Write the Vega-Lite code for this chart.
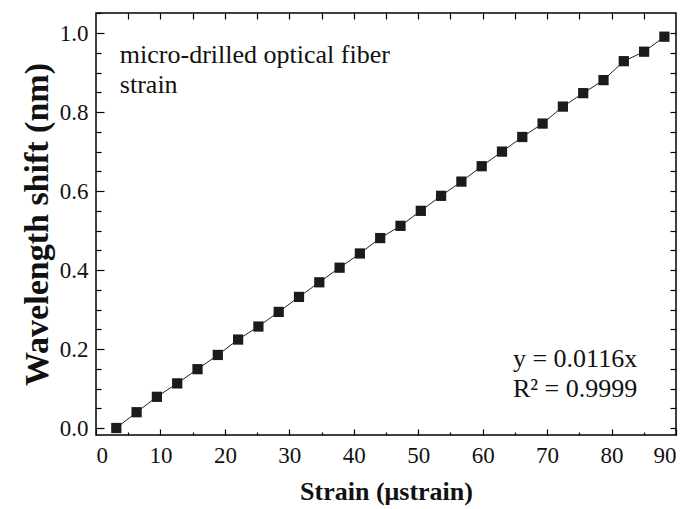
{
  "$schema": "https://vega.github.io/schema/vega-lite/v6.json",
  "width": 580,
  "height": 422,
  "autosize": "none",
  "padding": {"left": 96, "top": 13, "right": 13, "bottom": 74},
  "datasets": {
    "points": [
      {"strain": 3.15, "shift": 0.0},
      {"strain": 6.3, "shift": 0.040},
      {"strain": 9.45, "shift": 0.079},
      {"strain": 12.6, "shift": 0.113},
      {"strain": 15.75, "shift": 0.149},
      {"strain": 18.9, "shift": 0.185},
      {"strain": 22.05, "shift": 0.224},
      {"strain": 25.2, "shift": 0.257},
      {"strain": 28.35, "shift": 0.294},
      {"strain": 31.5, "shift": 0.332},
      {"strain": 34.65, "shift": 0.369},
      {"strain": 37.8, "shift": 0.406},
      {"strain": 40.95, "shift": 0.442},
      {"strain": 44.1, "shift": 0.481},
      {"strain": 47.25, "shift": 0.512},
      {"strain": 50.4, "shift": 0.550},
      {"strain": 53.55, "shift": 0.588},
      {"strain": 56.7, "shift": 0.624},
      {"strain": 59.85, "shift": 0.663},
      {"strain": 63.0, "shift": 0.700},
      {"strain": 66.15, "shift": 0.737},
      {"strain": 69.3, "shift": 0.771},
      {"strain": 72.45, "shift": 0.814},
      {"strain": 75.6, "shift": 0.848},
      {"strain": 78.75, "shift": 0.881},
      {"strain": 81.9, "shift": 0.929},
      {"strain": 85.05, "shift": 0.953},
      {"strain": 88.2, "shift": 0.991}
    ],
    "notes": [
      {"tx": 3.7, "ty": 0.924, "note": "micro-drilled optical fiber"},
      {"tx": 3.7, "ty": 0.848, "note": "strain"},
      {"tx": 64.7, "ty": 0.1545, "note": "y = 0.0116x"},
      {"tx": 64.7, "ty": 0.0785, "note": "R² = 0.9999"}
    ]
  },
  "layer": [
    {
      "data": {"name": "points"},
      "mark": {"type": "line", "color": "#222222", "strokeWidth": 1},
      "encoding": {
        "x": {
          "field": "strain",
          "type": "quantitative",
          "scale": {"domain": [0, 90], "nice": false, "zero": false},
          "axis": {
            "orient": "bottom",
            "title": "Strain (μstrain)",
            "values": [0, 10, 20, 30, 40, 50, 60, 70, 80, 90],
            "tickSize": -6,
            "labelPadding": 15,
            "titlePadding": 11
          }
        },
        "y": {
          "field": "shift",
          "type": "quantitative",
          "scale": {"domain": [-0.0177, 1.051], "nice": false, "zero": false},
          "axis": {
            "orient": "left",
            "title": "Wavelength shift (nm)",
            "values": [0, 0.2, 0.4, 0.6, 0.8, 1.0],
            "format": ".1f",
            "tickSize": -8,
            "labelPadding": 16,
            "titleFontSize": 34,
            "titlePadding": 5
          }
        }
      }
    },
    {
      "data": {"name": "points"},
      "mark": {"type": "square", "size": 105, "filled": true, "color": "#1b1b1b", "opacity": 1},
      "encoding": {
        "x": {
          "field": "strain",
          "type": "quantitative",
          "axis": {
            "orient": "bottom",
            "title": null,
            "labels": false,
            "values": [5, 15, 25, 35, 45, 55, 65, 75, 85],
            "tickSize": -3
          }
        },
        "y": {
          "field": "shift",
          "type": "quantitative",
          "axis": {
            "orient": "left",
            "title": null,
            "labels": false,
            "values": [0.05, 0.1, 0.15, 0.25, 0.3, 0.35, 0.45, 0.5, 0.55, 0.65, 0.7, 0.75, 0.85, 0.9, 0.95, 1.05],
            "tickSize": -5
          }
        }
      }
    },
    {
      "data": {"name": "notes"},
      "transform": [{"filter": "datum.tx < 10"}],
      "mark": {"type": "text", "align": "left", "baseline": "alphabetic", "fontSize": 26},
      "encoding": {
        "x": {
          "field": "tx",
          "type": "quantitative",
          "axis": {
            "orient": "top",
            "title": null,
            "labels": false,
            "values": [5, 10, 15, 20, 25, 30, 35, 40, 45, 50, 55, 60, 65, 70, 75, 80, 85],
            "tickSize": -6
          }
        },
        "y": {
          "field": "ty",
          "type": "quantitative",
          "axis": {
            "orient": "right",
            "title": null,
            "labels": false,
            "values": [0, 0.05, 0.1, 0.15, 0.2, 0.25, 0.3, 0.35, 0.4, 0.45, 0.5, 0.55, 0.6, 0.65, 0.7, 0.75, 0.8, 0.85, 0.9, 0.95, 1.0],
            "tickSize": -6
          }
        },
        "text": {"field": "note"}
      }
    },
    {
      "data": {"name": "notes"},
      "transform": [{"filter": "datum.tx > 10"}],
      "mark": {"type": "text", "align": "left", "baseline": "alphabetic", "fontSize": 26},
      "encoding": {
        "x": {"field": "tx", "type": "quantitative", "axis": null},
        "y": {"field": "ty", "type": "quantitative", "axis": null},
        "text": {"field": "note"}
      }
    }
  ],
  "resolve": {"axis": {"x": "independent", "y": "independent"}},
  "config": {
    "font": "Times New Roman, Liberation Serif, serif",
    "view": {"stroke": "#000000", "strokeWidth": 1.5},
    "text": {"font": "Times New Roman, Liberation Serif, serif", "color": "#111111"},
    "axis": {
      "domain": false,
      "grid": false,
      "ticks": true,
      "tickColor": "#000000",
      "tickWidth": 1.2,
      "labelFont": "Times New Roman, Liberation Serif, serif",
      "labelFontSize": 23,
      "labelColor": "#111111",
      "titleFont": "Times New Roman, Liberation Serif, serif",
      "titleFontWeight": "bold",
      "titleFontSize": 26,
      "titleColor": "#111111"
    }
  }
}
